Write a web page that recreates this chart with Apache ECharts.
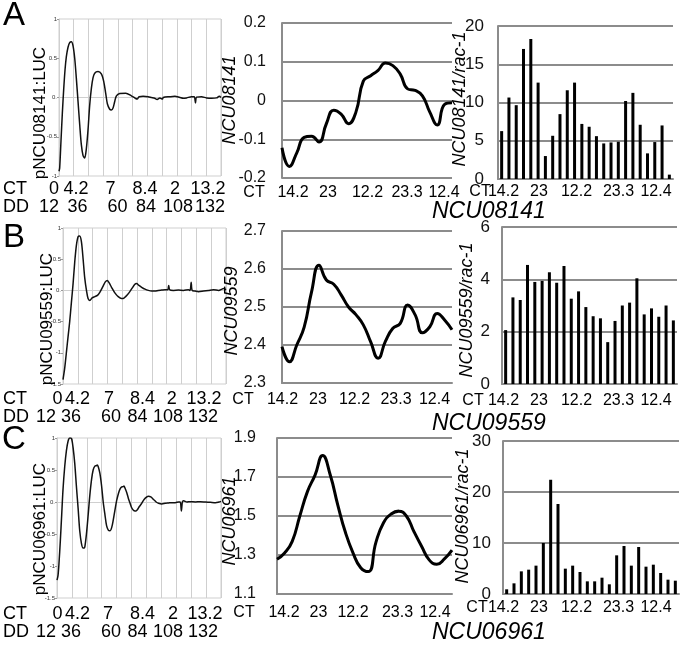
<!DOCTYPE html>
<html><head><meta charset="utf-8">
<script src="https://cdn.jsdelivr.net/npm/echarts@6/dist/echarts.min.js"></script>
<style>html,body{margin:0;padding:0;background:#fff}#c{width:680px;height:645px}</style>
</head><body><div id="c"></div>
<script>
// ---------- DATA ----------
// Luciferase traces (hours in DD, normalized signal)
const lucHoursA = [0,0.54,1.63,2.72,3.81,4.9,5.99,7.35,8.7,10.1,11.4,12.8,14.1,15.5,16.9,18.2,19.6,20.9,22.3,23.7,25.0,26.4,27.7,29.1,31.8,34.5,36.5,38.1,39.4,41.3,42.7,44.1,45.4,46.8,49.5,54.4,59,61.7,63.7,65.3,68.5,72.6,75.3,78,80,82.2,84.3,84.9,90.3,94.4,98.5,101.2,103.9,108,110.2,111.2,112.1,116.1,120.2,124.3,128.4,130.6,132];
const lucValsA  = [-0.94,-0.9,-0.55,-0.2,0.1,0.35,0.52,0.64,0.7,0.71,0.66,0.5,0.25,-0.05,-0.35,-0.6,-0.74,-0.77,-0.65,-0.4,-0.1,0.12,0.25,0.31,0.33,0.3,0.2,0.05,-0.08,-0.15,-0.16,-0.13,-0.05,0.02,0.05,0.055,0.02,-0.005,-0.02,0.01,0.015,0.01,0,-0.01,-0.025,-0.005,-0.02,0,0.01,0.015,0,-0.01,-0.005,0.01,0.01,-0.07,0.005,0.01,-0.005,-0.01,-0.005,0.015,0];
const lucHoursB = [0,1.35,2.71,4.06,5.42,6.77,8.13,9.48,10.84,12.19,13.5,14.9,16.3,17.6,19.0,20.3,21.7,23.6,25.7,27.9,29.8,32.5,34.4,35.8,37.4,39.3,42.0,44.7,47.4,48.8,50.7,53.4,56.1,58.2,59.6,61.5,63.7,66.4,69.1,71.8,74.5,77.2,79.9,82.6,84.8,85.6,86.4,89.4,93.5,97.5,101.6,102.9,103.8,104.6,107,109.7,113.8,117.8,121.9,126,128.7,130,132];
const lucValsB  = [-1.43,-1.25,-1.0,-0.75,-0.5,-0.2,0.1,0.45,0.72,0.86,0.87,0.78,0.5,0.2,0.0,-0.13,-0.16,-0.12,-0.1,-0.08,-0.03,0.07,0.14,0.16,0.12,0.05,-0.04,-0.1,-0.13,-0.13,-0.1,-0.04,0.04,0.1,0.11,0.08,0.05,0.02,0.0,-0.01,-0.01,0.0,0.005,0.01,0.01,0.08,0.01,0.0,0.005,0.0,0.01,0.0,0.13,0.0,-0.01,-0.02,-0.01,0.0,0.01,0.0,0.02,0.03,0.01];
const lucHoursC = [0,0.81,1.62,2.7,3.78,4.85,6.2,7.55,8.9,10.25,11.06,11.87,12.95,14.3,15.6,17.0,18.3,19.7,21.0,21.6,22.4,23.7,25.1,26.4,27.8,29.1,30.5,31.8,32.4,33.2,34.5,35.9,37.2,38.6,39.9,41.3,42.6,44.0,45.3,46.7,48.0,49.4,50.7,52.1,53.4,53.9,54.7,56.1,57.4,58.8,60.1,61.5,62.8,63.6,64.7,66.3,68.2,70.1,72.3,73.6,75.5,77.7,79.8,81.7,84.4,87.1,89.8,92.5,95.2,97.9,99.2,100.1,100.9,101.9,104.6,107.3,111.4,115.4,119.5,123.5,127.6,130.3,132];
const lucValsC  = [-1.22,-1.15,-0.95,-0.6,-0.2,0.2,0.55,0.8,0.95,1.0,1.0,0.98,0.85,0.6,0.25,-0.1,-0.45,-0.65,-0.72,-0.72,-0.7,-0.5,-0.2,0.1,0.35,0.5,0.56,0.57,0.58,0.55,0.45,0.25,0.0,-0.2,-0.37,-0.44,-0.45,-0.4,-0.28,-0.12,0.02,0.13,0.2,0.235,0.24,0.25,0.22,0.15,0.06,-0.02,-0.09,-0.13,-0.14,-0.14,-0.12,-0.07,-0.02,0.04,0.08,0.09,0.08,0.04,0.0,-0.02,-0.03,-0.02,-0.015,-0.01,-0.01,0.0,0.0,-0.14,0.0,0.02,0.0,0.005,0.0,0.005,0.0,-0.005,-0.01,0.0,0.01];

// 24 sampled time points
const timepoints = ['1','2','3','4','5','6','7','8','9','10','11','12','13','14','15','16','17','18','19','20','21','22','23','24'];
// middle panels (smoothed expression)
const rnaA = [-0.122,-0.17,-0.135,-0.095,-0.092,-0.107,-0.06,-0.025,-0.035,-0.06,-0.03,0.05,0.064,0.078,0.097,0.09,0.068,0.03,0.026,0.012,-0.03,-0.063,-0.01,-0.006];
const rnaB = [2.396,2.356,2.40,2.447,2.54,2.61,2.571,2.56,2.532,2.50,2.48,2.453,2.408,2.365,2.41,2.444,2.457,2.505,2.48,2.432,2.448,2.483,2.466,2.44];
const rnaC = [1.278,1.31,1.37,1.50,1.625,1.71,1.81,1.71,1.555,1.415,1.31,1.235,1.215,1.365,1.465,1.51,1.525,1.5,1.42,1.345,1.275,1.252,1.28,1.325];
// right panels (qPCR / rac-1)
const qpcrA = [6.26,10.65,9.65,17.0,18.3,12.6,3.0,5.65,8.48,11.6,12.6,7.2,6.83,5.6,4.65,4.78,4.87,10.2,11.26,7.09,3.35,4.83,7.0,0.57];
const qpcrB = [2.06,3.31,3.21,4.55,3.9,3.94,4.27,3.87,4.51,3.26,3.54,2.94,2.59,2.51,1.6,2.41,3.0,3.11,4.04,2.66,2.89,2.57,3.0,2.43];
const qpcrC = [0.92,2.09,4.44,4.77,5.56,10.0,22.4,17.65,4.97,5.56,4.31,2.48,2.48,3.2,1.9,7.58,9.41,5.56,9.22,5.36,5.75,4.12,2.81,2.61];

// text labels
const ctLabelsLuc = ['0','4.2','7','8.4','2','13.2'];
const ddLabelsLuc = ['12','36','60','84','108','132'];
const ctLabelsExpr = ['14.2','23','12.2','23.3','12.4'];
const genes = ['NCU08141','NCU09559','NCU06961'];
const panelLetters = ['A','B','C'];

// ---------- LAYOUT ----------
const FONT = '"Liberation Sans", Arial, Helvetica, sans-serif';
const GRID = '#8c8c8c';
const LIGHT = '#cfcfcf';
const grids = [
  {left:59, top:19, width:162, height:157},   // luc A
  {left:63, top:228, width:163, height:156},  // luc B
  {left:57, top:438, width:164, height:160},  // luc C
  {left:282, top:23, width:170, height:155},  // mid A
  {left:282, top:231, width:170, height:152}, // mid B
  {left:277, top:438, width:175, height:156}, // mid C
  {left:498, top:26, width:175, height:153},  // bar A
  {left:502, top:227, width:175, height:157}, // bar B
  {left:503, top:441, width:176, height:153}  // bar C
];
const lucRanges = [[-1,1],[-1.5,1],[-1.5,1]];
const midRanges = [[-0.2,0.2,0.1],[2.3,2.7,0.1],[1.1,1.9,0.2]];
const barRanges = [[0,20,5],[0,6,2],[0,30,10]];
const midMargins = [16,16,21];
const barMargins = [14,12,12];

function zip(a,b){ return a.map((v,i)=>[v,b[i]]); }
const lucData = [zip(lucHoursA,lucValsA), zip(lucHoursB,lucValsB), zip(lucHoursC,lucValsC)];
const rnaData = [rnaA,rnaB,rnaC];
const barData = [qpcrA,qpcrB,qpcrC];

const xAxes = [], yAxes = [], series = [];
for (let r=0;r<3;r++){
  // luciferase
  xAxes.push({gridIndex:r, type:'value', min:0, max:132, interval:12,
    axisLine:{show:true,lineStyle:{color:LIGHT,width:1}}, axisTick:{show:false}, axisLabel:{show:false},
    splitLine:{show:true,lineStyle:{color:LIGHT,width:1}}});
  yAxes.push({gridIndex:r, type:'value', min:lucRanges[r][0], max:lucRanges[r][1], interval:0.5,
    axisLine:{show:true,lineStyle:{color:LIGHT,width:1}}, axisTick:{show:true,length:2,lineStyle:{color:'#999'}},
    splitLine:{show:false},
    axisLabel:{fontSize:6, color:'#333', margin:2, fontFamily:FONT,
      formatter:v=> Math.abs(v)<1e-9 ? '0.' : String(+v.toFixed(1))}});
  series.push({type:'line', xAxisIndex:r, yAxisIndex:r, data:lucData[r], showSymbol:false, smooth:0.3,
    lineStyle:{color:'#111', width:1.5}, silent:true});
}
for (let r=0;r<3;r++){
  const gi=3+r;
  xAxes.push({gridIndex:gi, type:'category', data:timepoints, boundaryGap:false,
    axisLine:{show:true,lineStyle:{color:GRID,width:2}}, axisTick:{show:false}, axisLabel:{show:false}, splitLine:{show:false}});
  yAxes.push({gridIndex:gi, type:'value', min:midRanges[r][0], max:midRanges[r][1], interval:midRanges[r][2],
    axisLine:{show:true,lineStyle:{color:GRID,width:2}}, axisTick:{show:false},
    splitLine:{show:true,lineStyle:{color:GRID,width:2}},
    axisLabel:{fontSize:16, color:'#111', margin:midMargins[r], fontFamily:FONT,
      formatter:v=> Math.abs(v)<1e-9 ? '0' : v.toFixed(1)}});
  series.push({type:'line', xAxisIndex:gi, yAxisIndex:gi, data:rnaData[r], showSymbol:false, smooth:0.5,
    lineStyle:{color:'#000', width:3}, silent:true});
}
for (let r=0;r<3;r++){
  const gi=6+r;
  xAxes.push({gridIndex:gi, type:'category', data:timepoints, boundaryGap:true,
    axisLine:{show:true,lineStyle:{color:GRID,width:2}}, axisTick:{show:false}, axisLabel:{show:false}, splitLine:{show:false}});
  yAxes.push({gridIndex:gi, type:'value', min:barRanges[r][0], max:barRanges[r][1], interval:barRanges[r][2],
    axisLine:{show:true,lineStyle:{color:GRID,width:2}}, axisTick:{show:false},
    splitLine:{show:true,lineStyle:{color:GRID,width:2}},
    axisLabel:{fontSize:17, color:'#111', margin:barMargins[r], fontFamily:FONT}});
  series.push({type:'bar', xAxisIndex:gi, yAxisIndex:gi, data:barData[r], barWidth:3,
    itemStyle:{color:'#000'}, silent:true, z:5});
}

// ---------- ANNOTATION TEXT ----------
const g = [];
function txt(x,y,text,size,o){
  o=o||{};
  return {type:'text', x:x, y:y, rotation:o.rot||0, silent:true, z:10,
    style:{text:text, fontSize:size, fontFamily:FONT, fontStyle:o.italic?'italic':'normal',
      fill:'#000', align:o.align||'center', verticalAlign:'middle',
      textAlign:o.align||'center', textVerticalAlign:'middle'}};
}
const R = Math.PI/2;
// panel letters
const letterPos = [[14,16],[14,238],[14,440]];
panelLetters.forEach((L,i)=>g.push(txt(letterPos[i][0],letterPos[i][1],L,33,{})));
// luciferase y titles
const lucTitlePos = [[40,113],[47,319],[40,529]];
genes.forEach((n,i)=>g.push(txt(lucTitlePos[i][0],lucTitlePos[i][1],'p'+n+':LUC',17,{rot:R})));
// middle y titles
const midTitlePos = [[230,100],[232,311],[230,521]];
genes.forEach((n,i)=>g.push(txt(midTitlePos[i][0],midTitlePos[i][1],n,18,{rot:R,italic:true})));
// right y titles
const barTitlePos = [[460,99],[467,310],[463,516]];
genes.forEach((n,i)=>g.push(txt(barTitlePos[i][0],barTitlePos[i][1],n+'/rac-1',18,{rot:R,italic:true})));
// gene names under bar panels
const geneNameY = [212,424,633];
genes.forEach((n,i)=>g.push(txt(432,geneNameY[i],n,23,{italic:true,align:'left'})));
// CT / DD rows under luciferase panels
const ctRowY = [189,399,614], ddRowY = [207,417.5,632];
const ctX = [[54,76,110.5,145,175,208],[57.5,77.5,109,142.5,171.7,204],[57.5,77.5,108,142.5,173,205]];
const ddX = [[49,77.5,117.5,146,178,210],[46,71,111,137.5,168,203],[46,71,111,137.5,168,203]];
for (let r=0;r<3;r++){
  g.push(txt(3,ctRowY[r],'CT',18,{align:'left'}));
  g.push(txt(3,ddRowY[r],'DD',18,{align:'left'}));
  ctLabelsLuc.forEach((s,k)=>g.push(txt(ctX[r][k],ctRowY[r],s,18,{})));
  ddLabelsLuc.forEach((s,k)=>g.push(txt(ddX[r][k],ddRowY[r],s,18,{})));
}
// CT rows under middle panels
const midRowY = [193,400,613];
const midCTX = [254,243,244];
const midLblX = [[293,328,367.5,407,444],[282.5,318,354.5,396,434.5],[284,318.5,353,397.5,435]];
for (let r=0;r<3;r++){
  g.push(txt(midCTX[r],midRowY[r],'CT',16,{}));
  ctLabelsExpr.forEach((s,k)=>g.push(txt(midLblX[r][k],midRowY[r],s,16,{})));
}
// CT rows under bar panels
const barRowY = [192,401,608];
const barCTX = [480,473,477];
const barLblX = [503.5,539,576.5,618.5,656];
for (let r=0;r<3;r++){
  g.push(txt(barCTX[r],barRowY[r],'CT',16,{}));
  ctLabelsExpr.forEach((s,k)=>g.push(txt(barLblX[k],barRowY[r],s,16,{})));
}

const chart = echarts.init(document.getElementById('c'), null, {renderer:'canvas'});
chart.setOption({
  animation:false,
  backgroundColor:'#fff',
  textStyle:{fontFamily:FONT},
  grid: grids.map((gd,i)=>Object.assign({containLabel:false, show:i<3, borderColor:LIGHT, borderWidth:1}, gd)),
  xAxis:xAxes, yAxis:yAxes, series:series, graphic:g
});
</script></body></html>
